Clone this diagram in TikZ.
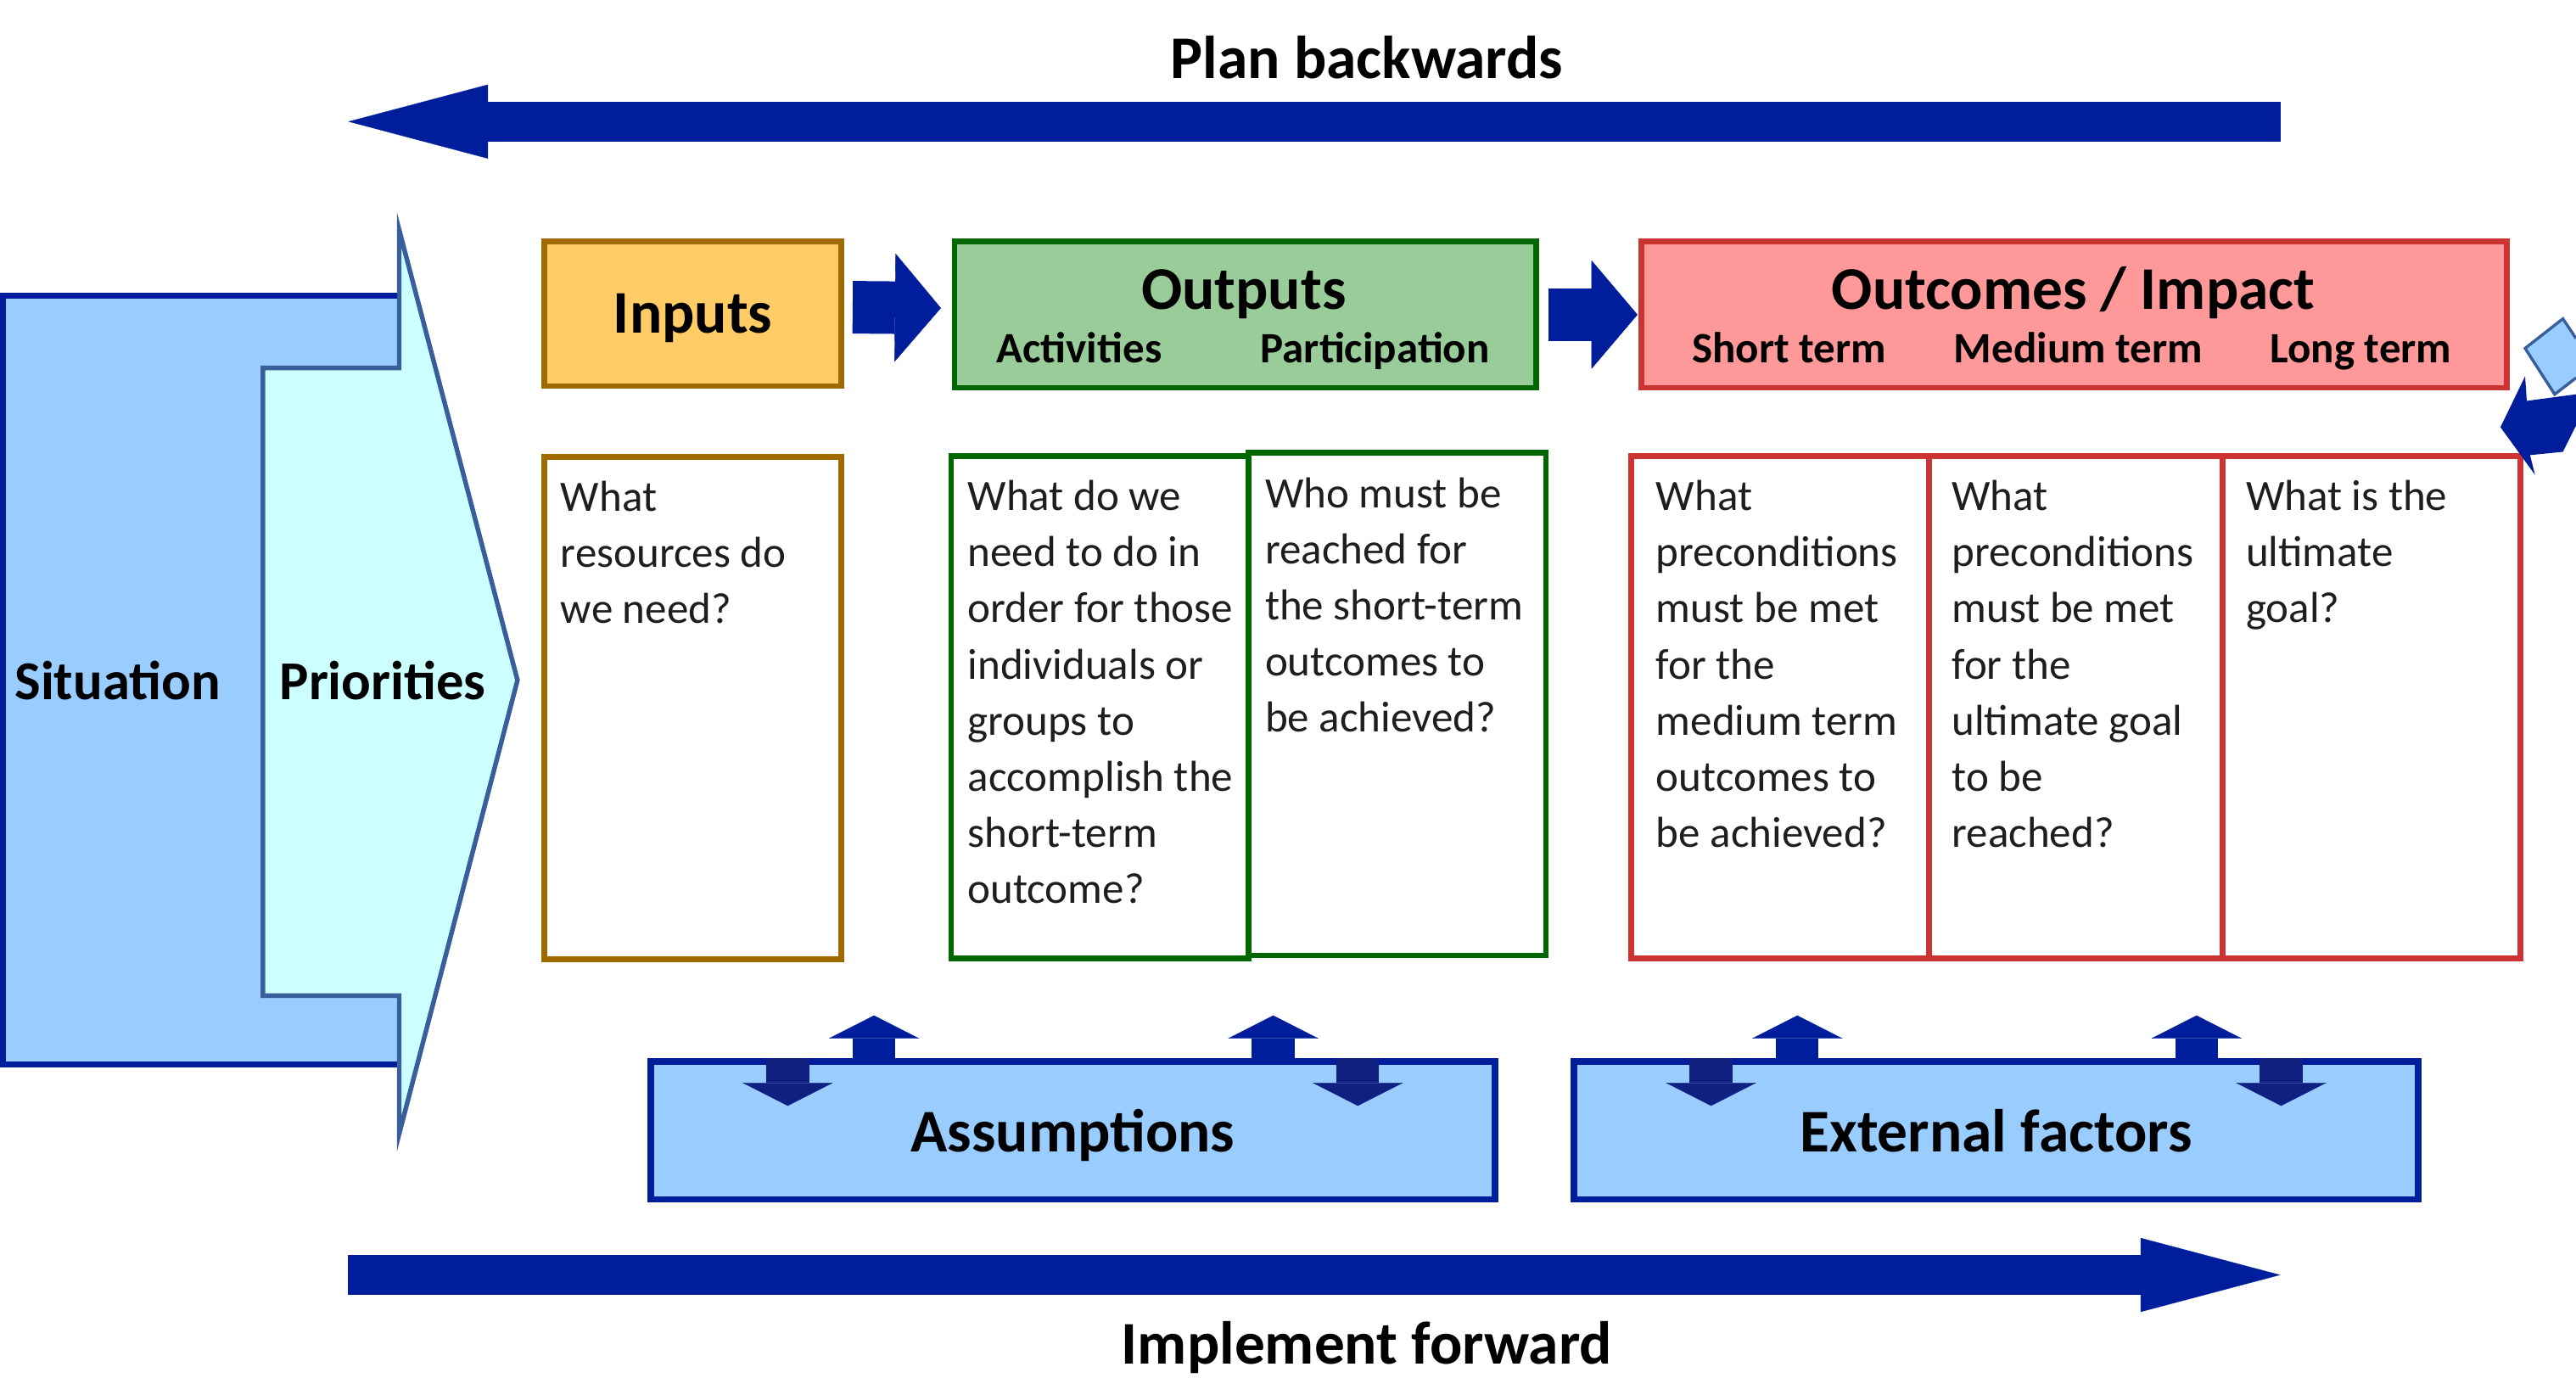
\documentclass[tikz,border=0pt]{standalone}
\usepackage{fontspec}
\setmainfont{Carlito}
\usepackage{xcolor}
\usepackage{tikz}
\usetikzlibrary{arrows.meta}

\definecolor{arrowblue}{RGB}{0,30,155}
\definecolor{downblue}{RGB}{16,32,128}
\definecolor{sitfill}{RGB}{153,204,255}
\definecolor{prifill}{RGB}{204,255,255}
\definecolor{priline}{RGB}{58,94,155}
\definecolor{inpline}{RGB}{160,106,0}
\definecolor{inpfill}{RGB}{255,204,102}
\definecolor{outpline}{RGB}{0,102,0}
\definecolor{outpfill}{RGB}{153,204,153}
\definecolor{outcline}{RGB}{204,51,51}
\definecolor{outcfill}{RGB}{255,153,153}
\definecolor{textgray}{RGB}{30,30,30}

\begin{document}
\begin{tikzpicture}[
    headfont/.style={font=\fontsize{21}{25}\selectfont\bfseries},
    headtext/.style={headfont, anchor=base, inner sep=0pt},
    subtext/.style={font=\fontsize{15}{18}\selectfont\bfseries, anchor=base, inner sep=0pt},
    hbox/.style={draw, line width=2pt, inner sep=0pt, minimum height=1.78cm},
    qbox/.style={draw, line width=2pt, fill=white, inner sep=0pt,
        minimum width=3.62cm, minimum height=6.12cm},
    qtext/.style={font=\fontsize{15}{19.4}\selectfont, align=left,
        anchor=north west, inner sep=0pt, text=textgray},
    factbox/.style={draw=arrowblue, fill=sitfill, line width=2.2pt, headfont, text depth=0pt,
        minimum width=10.28cm, minimum height=1.68cm},
    bigarrow/.style={arrowblue, line width=0.48cm,
        -{Triangle[length=1.7cm, width=0.9cm, line width=0.1pt]}},
    midarrow/.style={arrowblue, line width=0.64cm,
        -{Triangle[length=0.56cm, width=1.32cm, line width=0.1pt]}},
    tinyarrow/.style={line width=0.52cm, -{Triangle[length=0.28cm, width=1.1cm, line width=0.1pt]}}
]
            \useasboundingbox (0,0) rectangle (31.36,-16.77);

            % plan / implement
            \node[headtext] (plantext) at (16.64,-0.96) {Plan backwards};
            \coordinate (planstart) at (27.76,-1.48);
            \coordinate (planend) at (4.24,-1.48);
            \draw[bigarrow] (planstart) -- (planend);
            \node[headtext] (impltext) at (16.64,-16.6) {Implement forward};
            \coordinate (implstart) at (4.24,-15.52);
            \coordinate (implend) at (27.76,-15.52);
            \draw[bigarrow] (implstart) -- (implend);

            % situation and priorities
            \node[draw=arrowblue, fill=sitfill, line width=2pt, minimum width=4.96cm,
                minimum height=9.36cm, text width=4.68cm, inner xsep=0.14cm, align=left,
                font=\fontsize{19}{23}\selectfont\bfseries] (situation) at (2.52,-8.28) {Situation};
            \draw[fill=prifill, draw=priline, line width=1.6pt, line join=miter]
                (3.2,-4.48) -- (4.86,-4.48) -- (4.86,-2.8) -- (6.3,-8.28)
                -- (4.86,-13.8) -- (4.86,-12.12) -- (3.2,-12.12) -- cycle;
            \node[font=\fontsize{19}{23}\selectfont\bfseries] (priorities) at (4.66,-8.28) {Priorities};

            % header boxes
            \node[hbox, fill=inpfill, draw=inpline, minimum width=3.62cm, minimum height=1.76cm,
                headfont, text depth=0pt] (inputs) at (8.435,-3.82) {Inputs};
            \node[hbox, fill=outpfill, draw=outpline, minimum width=7.08cm] (outputs) at (15.16,-3.83) {};
            \node[headtext] (outputstitle) at (15.14,-3.76) {Outputs};
            \node[subtext] (activities) at (13.14,-4.42) {Activities};
            \node[subtext] (participation) at (16.74,-4.42) {Participation};
            \node[hbox, fill=outcfill, draw=outcline, minimum width=10.54cm] (outcomes) at (25.25,-3.83) {};
            \node[headtext] (outcomestitle) at (25.24,-3.76) {Outcomes / Impact};
            \node[subtext] (shortterm) at (21.78,-4.42) {Short term};
            \node[subtext] (mediumterm) at (25.3,-4.42) {Medium term};
            \node[subtext] (longterm) at (28.74,-4.42) {Long term};

            \draw[midarrow] ([xshift=0.1cm,yshift=0.08cm]inputs.east) -- ([xshift=-0.13cm,yshift=0.08cm]outputs.west); % inputs-outputs
            \draw[midarrow] ([xshift=0.12cm]outputs.east) -- ([xshift=-0.01cm]outcomes.west); % outputs-outcomes

            % question boxes
            \node[qbox, draw=inpline] (inq) at (8.435,-8.62) {};
            \node[qtext] (inqt) at ([shift={(0.23,-0.33)}]inq.north west) {What\\resources do\\we need?};
            \node[qbox, draw=outpline] (actq) at (13.39,-8.61) {};
            \node[qtext] (actqt) at ([shift={(0.23,-0.33)}]actq.north west)
                {What do we\\need to do in\\order for those\\individuals or\\groups to\\accomplish the\\short-term\\outcome?};
            \node[qbox, draw=outpline] (partq) at (17.01,-8.57) {};
            \node[qtext] (partqt) at ([shift={(0.23,-0.33)}]partq.north west)
                {Who must be\\reached for\\the short-term\\outcomes to\\be achieved?};
            \node[qbox, draw=outcline] (shortq) at (21.67,-8.61) {};
            \node[qtext] (shortqt) at ([shift={(0.33,-0.33)}]shortq.north west)
                {What\\preconditions\\must be met\\for the\\medium term\\outcomes to\\be achieved?};
            \node[qbox, draw=outcline, minimum width=3.58cm] (medq) at (25.27,-8.61) {};
            \node[qtext] (medqt) at ([shift={(0.31,-0.33)}]medq.north west)
                {What\\preconditions\\must be met\\for the\\ultimate goal\\to be\\reached?};
            \node[qbox, draw=outcline] (longq) at (28.87,-8.61) {};
            \node[qtext] (longqt) at ([shift={(0.31,-0.33)}]longq.north west) {What is the\\ultimate\\goal?};

            % assumptions / external factors
            \node[factbox] (assumptions) at (13.06,-13.76) {Assumptions};
            \node[factbox] (externals) at (24.3,-13.76) {External factors};
            \foreach \fb in {assumptions, externals} {
                \foreach \dx in {-3.47, 3.47}
                    \draw[tinyarrow, downblue] ([xshift=\dx cm]\fb.north) -- ++(0,-0.58);
                \foreach \dx in {-2.42, 2.44}
                    \draw[tinyarrow, arrowblue] ([xshift=\dx cm]\fb.north) -- ++(0,0.52);
            }

            % loop arrow at the edge
            \draw[fill=sitfill, draw=priline, line width=1pt]
                (31.36,-4.12) -- (31.2,-3.88) -- (30.74,-4.24) -- (31.1,-4.8) -- (31.36,-4.6);
            \fill[arrowblue] (30.44,-5.2) -- (30.74,-4.58) -- (30.76,-4.88) -- (31.36,-4.8)
                -- (31.36,-5.18) -- (31.2,-5.5) -- (30.8,-5.54) -- (30.86,-5.78) -- cycle;
\end{tikzpicture}
\end{document}
